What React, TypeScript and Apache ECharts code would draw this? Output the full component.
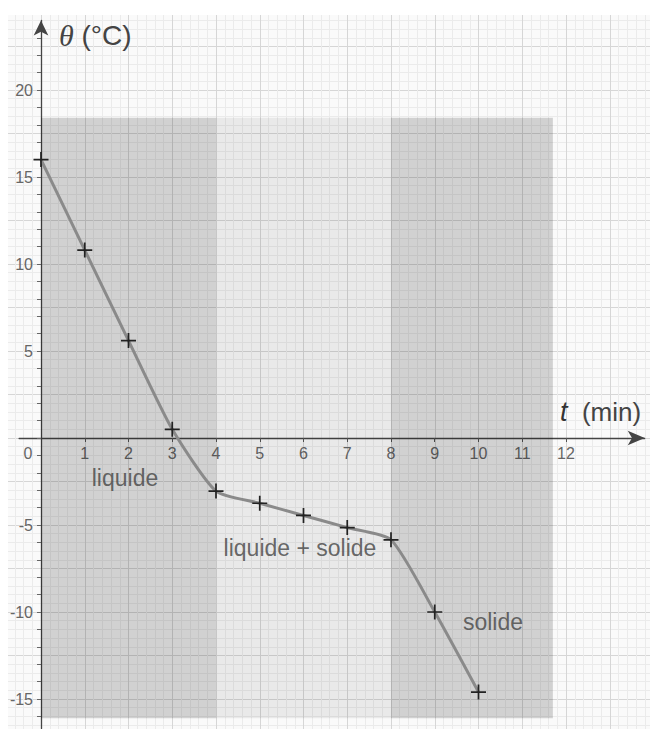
import React, { useEffect, useRef } from "react";
import * as echarts from "echarts";

// ---- data ----
const timeMin = [0, 1, 2, 3, 4, 5, 6, 7, 8, 9, 10];
const temperatureC = [16, 10.8, 5.6, 0.5, -3.05, -3.75, -4.45, -5.15, -5.85, -10, -14.6];
const xTickValues = [1, 2, 3, 4, 5, 6, 7, 8, 9, 10, 11, 12];
const yTickValues = [-16, -15, -14, -13, -12, -11, -10, -9, -8, -7, -6, -5, -4, -3, -2, -1, 0, 1, 2, 3, 4, 5, 6, 7, 8, 9, 10, 11, 12, 13, 14, 15, 16, 17, 18, 19, 20, 21, 22, 23];
const yLabelValues = [20, 15, 10, 5, -5, -10, -15];
const phaseNames = ["liquide", "liquide + solide", "solide"];
const phaseStart = [0, 4, 8];
const phaseEnd = [4, 8, 11.7];
const phaseTop = [18.4, 18.4, 18.4];
const phaseBottom = [-16.1, -16.1, -16.1];
const labelT = [1.92, 5.92, 10.33];
const labelTheta = [-2.3, -6.3, -10.6];

// ---- layout ----
const OX = 41, OY = 438, SX = 43.75, SY = 17.4, OFF = 20, W = 690, H = 830;
const px = (t: number) => OX + t * SX + OFF;
const py = (v: number) => OY - v * SY + OFF;

const FONT = "Liberation Sans, Arial, sans-serif";
const PLUS = "path://M6.2,0H7.8V6.2H14V7.8H7.8V14H6.2V7.8H0V6.2H6.2Z";

export default function App() {
  const ref = useRef<HTMLDivElement>(null);
  useEffect(() => {
    if (!ref.current) return;
    const chart = echarts.init(ref.current, undefined, { renderer: "svg" });
    const pMinX = -1, pMaxX = 14, pMinY = -20, pMaxY = 25;
    const dMinX = -0.5, dMaxX = 13.8, dMinY = -16.7, dMaxY = 24;
    const phaseColors = ["rgba(0,0,0,0.16)", "rgba(0,0,0,0.065)", "rgba(0,0,0,0.16)"];
    // shift axes onto the origin
    const yAxisOffset = -(px(0) - px(dMinX));
    const xAxisOffset = -(py(dMinY) - py(0));
    chart.setOption({
      animation: false,
      textStyle: { fontFamily: FONT },
      grid: [
        {
          left: px(pMinX), right: W - px(pMaxX), top: py(pMaxY), bottom: H - py(pMinY),
          show: true, backgroundColor: "#fafafa", borderWidth: 0,
        },
        {
          left: px(dMinX), right: W - px(dMaxX), top: py(dMaxY), bottom: H - py(dMinY),
        },
      ],
      xAxis: [
        {
          gridIndex: 0, type: "value", min: pMinX, max: pMaxX, interval: 1,
          axisLine: { show: false }, axisTick: { show: false }, axisLabel: { show: false },
          splitLine: { show: true, lineStyle: { color: "#d6d6d6", width: 1 } },
          minorTick: { show: false, splitNumber: 5 },
          minorSplitLine: { show: true, lineStyle: { color: "#ebebeb", width: 1 } },
        },
        {
          gridIndex: 1, type: "value", min: dMinX, max: dMaxX, position: "bottom",
          offset: xAxisOffset,
          axisLine: {
            show: true, onZero: false, symbol: ["none", "arrow"], symbolSize: [11, 17],
            lineStyle: { color: "#444", width: 1.3 },
          },
          axisTick: { show: true, customValues: xTickValues, length: 4, lineStyle: { color: "#555" } },
          axisLabel: { customValues: xTickValues, margin: 7, fontSize: 16, color: "#666", fontFamily: FONT },
          splitLine: { show: false },
        },
      ],
      yAxis: [
        {
          gridIndex: 0, type: "value", min: pMinY, max: pMaxY, interval: 2.5,
          axisLine: { show: false }, axisTick: { show: false }, axisLabel: { show: false },
          splitLine: { show: true, lineStyle: { color: "#d6d6d6", width: 1 } },
          minorTick: { show: false, splitNumber: 5 },
          minorSplitLine: { show: true, lineStyle: { color: "#ebebeb", width: 1 } },
        },
        {
          gridIndex: 1, type: "value", min: dMinY, max: dMaxY, position: "left",
          offset: yAxisOffset,
          axisLine: {
            show: true, onZero: false, symbol: ["none", "arrow"], symbolSize: [11, 15],
            lineStyle: { color: "#444", width: 1.3 },
          },
          axisTick: { show: true, customValues: yTickValues, length: 4, lineStyle: { color: "#666" } },
          axisLabel: { customValues: yLabelValues, margin: 8, fontSize: 16, color: "#666", fontFamily: FONT },
          splitLine: { show: false },
        },
      ],
      series: [
        {
          type: "line",
          xAxisIndex: 1, yAxisIndex: 1,
          data: timeMin.map((t, i) => [t, temperatureC[i]]),
          smooth: 0.2,
          lineStyle: { color: "#8a8a8a", width: 3 },
          symbol: PLUS, symbolSize: 15, showSymbol: true,
          itemStyle: { color: "#222" },
          z: 3,
          markArea: {
            silent: true,
            data: phaseNames.map((_, i) => [
              { coord: [phaseStart[i], phaseTop[i]], itemStyle: { color: phaseColors[i] } },
              { coord: [phaseEnd[i], phaseBottom[i]] },
            ]),
          },
        },
        {
          type: "scatter",
          xAxisIndex: 1, yAxisIndex: 1,
          symbolSize: 0,
          data: phaseNames.map((n, i) => ({ name: n, value: [labelT[i], labelTheta[i]] })),
          label: {
            show: true, position: "inside", formatter: "{b}",
            fontSize: 23, color: "#444", fontFamily: FONT,
          },
          z: 4,
        },
      ],
      graphic: [
        { type: "rect", shape: { x: 0, y: 0, width: OFF + 8, height: H }, style: { fill: "#fff" }, z: 100 },
        { type: "rect", shape: { x: 0, y: 0, width: W, height: OFF + 15 }, style: { fill: "#fff" }, z: 100 },
        {
          type: "text", x: OFF + 28, y: OFF + 453, z: 101,
          style: { text: "0", fontSize: 16, fill: "#666", fontFamily: FONT, align: "center", verticalAlign: "middle" },
        },
        {
          type: "text", x: OFF + 59, y: OFF + 35, z: 101,
          style: {
            text: "{i|θ} (°C)", fontSize: 28, fill: "#444", fontFamily: FONT, verticalAlign: "middle",
            rich: { i: { fontStyle: "italic", fontFamily: "Liberation Serif, serif", fontSize: 30, fill: "#444" } },
          },
        },
        {
          type: "text", x: OFF + 560, y: OFF + 412, z: 101,
          style: {
            text: "{i|t}  (min)", fontSize: 26, fill: "#444", fontFamily: FONT, verticalAlign: "middle",
            rich: { i: { fontStyle: "italic", fontFamily: FONT, fontSize: 27, fill: "#333" } },
          },
        },
      ],
    });
    return () => chart.dispose();
  }, []);
  return (
    <div style={{ position: "fixed", left: 0, top: 0, width: 650, height: 729, overflow: "hidden", background: "#fff" }}>
      <div ref={ref} style={{ position: "absolute", left: -OFF, top: -OFF, width: W, height: H }} />
    </div>
  );
}
